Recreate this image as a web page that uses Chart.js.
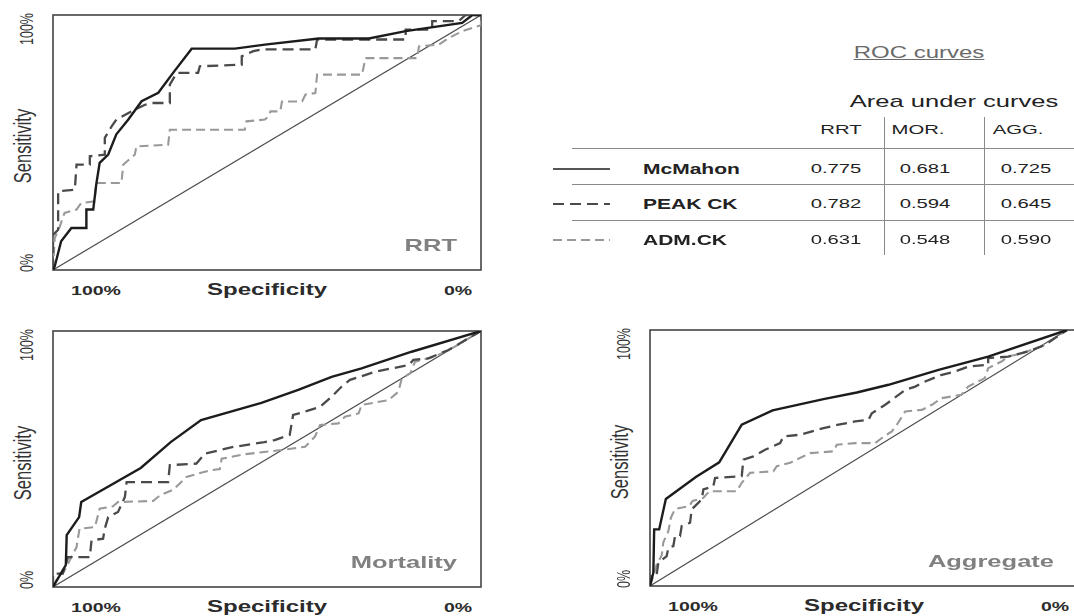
<!DOCTYPE html>
<html>
<head>
<meta charset="utf-8">
<title>ROC curves</title>
<script src="https://cdn.jsdelivr.net/npm/chart.js@4.4.1/dist/chart.umd.min.js"></script>
<style>
  html, body {
    margin: 0;
    padding: 0;
    background: #fff;
    width: 1074px;
    height: 616px;
    overflow: hidden;
    position: relative;
    font-family: "Liberation Sans", Arial, sans-serif;
  }
  .panel { position: absolute; }
  .lbl { position: absolute; white-space: nowrap; line-height: 1; }
  .rule { position: absolute; background: #8a8a8a; }
</style>
</head>
<body>
<script>
// names and labels
const seriesNames = ['McMahon', 'PEAK CK', 'ADM.CK'];
const panelNames = ['RRT', 'Mortality', 'Aggregate'];
const xTickLabels = ['100%', '0%'];
const yTickLabels = ['0%', '100%'];
const xTitle = 'Specificity';
const yTitle = 'Sensitivity';

// area under curves table
const aucColumns = ['RRT', 'MOR.', 'AGG.'];
const aucRRT = [0.775, 0.782, 0.631];
const aucMOR = [0.681, 0.594, 0.548];
const aucAGG = [0.725, 0.645, 0.590];

// curves, points are [1 - specificity, sensitivity]
const rrtMcMahon = [[0,0],[0.004,0.014],[0.019,0.113],[0.043,0.165],[0.078,0.165],[0.078,0.237],[0.094,0.237],[0.101,0.335],[0.109,0.420],[0.129,0.453],[0.148,0.532],[0.176,0.590],[0.207,0.662],[0.246,0.695],[0.281,0.774],[0.324,0.868],[0.425,0.868],[0.495,0.884],[0.621,0.908],[0.738,0.908],[0.824,0.937],[0.956,0.969],[0.980,1],[1,1]];
const rrtPeakCk = [[0,0],[0,0.138],[0.012,0.158],[0.012,0.309],[0.051,0.315],[0.055,0.413],[0.086,0.413],[0.086,0.446],[0.121,0.452],[0.121,0.518],[0.137,0.563],[0.148,0.590],[0.183,0.622],[0.215,0.648],[0.230,0.655],[0.273,0.655],[0.273,0.727],[0.289,0.773],[0.339,0.773],[0.343,0.799],[0.441,0.805],[0.441,0.838],[0.468,0.858],[0.488,0.865],[0.613,0.865],[0.617,0.904],[0.824,0.904],[0.824,0.943],[0.886,0.943],[0.886,0.976],[0.948,0.976],[0.964,1],[1,1]];
const rrtAdmCk = [[0,0],[0.004,0.125],[0.016,0.171],[0.027,0.224],[0.055,0.237],[0.066,0.263],[0.097,0.269],[0.101,0.341],[0.160,0.341],[0.164,0.413],[0.191,0.452],[0.195,0.485],[0.269,0.491],[0.273,0.550],[0.448,0.550],[0.452,0.583],[0.495,0.590],[0.504,0.603],[0.508,0.622],[0.531,0.622],[0.535,0.661],[0.582,0.661],[0.590,0.688],[0.613,0.694],[0.617,0.766],[0.722,0.766],[0.730,0.831],[0.851,0.831],[0.855,0.877],[0.902,0.884],[0.925,0.910],[0.956,0.936],[0.990,0.955],[1,0.96],[1,1]];

const morMcMahon = [[0,0],[0.030,0.086],[0.032,0.203],[0.061,0.273],[0.066,0.332],[0.205,0.465],[0.275,0.566],[0.346,0.652],[0.487,0.719],[0.573,0.770],[0.651,0.821],[0.721,0.854],[0.838,0.919],[1,1]];
const morPeakCk = [[0,0],[0,0.052],[0.023,0.052],[0.035,0.117],[0.086,0.117],[0.090,0.182],[0.117,0.189],[0.121,0.228],[0.129,0.273],[0.152,0.293],[0.168,0.352],[0.172,0.410],[0.269,0.410],[0.273,0.476],[0.335,0.482],[0.355,0.521],[0.421,0.547],[0.494,0.566],[0.518,0.574],[0.553,0.594],[0.561,0.672],[0.588,0.685],[0.624,0.704],[0.651,0.743],[0.674,0.782],[0.694,0.809],[0.729,0.828],[0.752,0.841],[0.831,0.867],[0.842,0.887],[0.877,0.893],[0.924,0.926],[1,1]];
const morAdmCk = [[0,0],[0.012,0.039],[0.027,0.065],[0.043,0.117],[0.055,0.156],[0.062,0.228],[0.098,0.234],[0.109,0.306],[0.140,0.315],[0.152,0.332],[0.234,0.336],[0.250,0.358],[0.281,0.380],[0.312,0.430],[0.367,0.456],[0.390,0.461],[0.394,0.501],[0.445,0.518],[0.534,0.535],[0.589,0.548],[0.612,0.587],[0.624,0.633],[0.667,0.639],[0.682,0.665],[0.714,0.678],[0.721,0.711],[0.784,0.730],[0.807,0.763],[0.815,0.815],[0.835,0.835],[0.846,0.880],[0.893,0.900],[0.940,0.940],[1,1]];

const aggMcMahon = [[0,0],[0.008,0.052],[0.010,0.221],[0.022,0.221],[0.038,0.340],[0.110,0.426],[0.166,0.483],[0.220,0.630],[0.294,0.686],[0.416,0.730],[0.496,0.756],[0.572,0.786],[0.692,0.844],[0.811,0.896],[1,1]];
const aggPeakCk = [[0,0],[0.004,0.045],[0.016,0.045],[0.020,0.091],[0.040,0.117],[0.044,0.149],[0.056,0.156],[0.060,0.195],[0.072,0.195],[0.076,0.234],[0.096,0.247],[0.100,0.299],[0.124,0.338],[0.128,0.377],[0.152,0.390],[0.156,0.422],[0.220,0.429],[0.224,0.494],[0.248,0.506],[0.276,0.532],[0.312,0.558],[0.320,0.584],[0.360,0.591],[0.416,0.617],[0.452,0.630],[0.492,0.643],[0.524,0.649],[0.532,0.675],[0.564,0.708],[0.580,0.727],[0.612,0.766],[0.636,0.779],[0.660,0.799],[0.700,0.825],[0.732,0.838],[0.763,0.857],[0.811,0.864],[0.811,0.890],[0.859,0.896],[0.907,0.916],[0.947,0.942],[1,1]];
const aggAdmCk = [[0,0],[0.008,0.039],[0.016,0.084],[0.028,0.119],[0.032,0.171],[0.044,0.214],[0.050,0.266],[0.060,0.301],[0.094,0.312],[0.102,0.332],[0.128,0.344],[0.142,0.370],[0.208,0.370],[0.220,0.403],[0.240,0.442],[0.296,0.448],[0.304,0.468],[0.336,0.481],[0.352,0.494],[0.384,0.519],[0.440,0.526],[0.448,0.552],[0.492,0.558],[0.540,0.558],[0.556,0.578],[0.580,0.604],[0.592,0.630],[0.612,0.682],[0.652,0.688],[0.676,0.708],[0.700,0.734],[0.747,0.747],[0.763,0.779],[0.787,0.799],[0.803,0.812],[0.811,0.851],[0.843,0.877],[0.859,0.896],[0.891,0.909],[0.939,0.935],[1,1]];

const chanceLine = [[0,0],[1,1]];

const panelCurves = [
  [rrtMcMahon, rrtPeakCk, rrtAdmCk],
  [morMcMahon, morPeakCk, morAdmCk],
  [aggMcMahon, aggPeakCk, aggAdmCk]
];

// look of each series: solid black, dark dashed, light dashed
const seriesStyles = [
  { color: '#1c1c1c', width: 2.4, dash: [] },
  { color: '#4a4a4a', width: 2.3, dash: [11, 6] },
  { color: '#999999', width: 2.1, dash: [9, 5] }
];

// plot boxes on the page (the last one runs off the right edge)
const boxes = [
  { left: 53, top: 15, w: 428, h: 255, xMax: 1 },
  { left: 53, top: 331, w: 428, h: 256, xMax: 1 },
  { left: 650, top: 330, w: 426, h: 256, xMax: 1.0216 }
];

const STRETCH = 1.5; // text in the picture is stretched sideways

function addText(txt, x, y, opts) {
  const d = document.createElement('div');
  d.className = 'lbl';
  d.textContent = txt;
  d.style.left = x + 'px';
  d.style.top = y + 'px';
  d.style.fontSize = (opts.size || 13) + 'px';
  d.style.color = opts.color || '#222';
  if (opts.bold) d.style.fontWeight = 'bold';
  if (opts.underline) d.style.textDecoration = 'underline';
  const align = opts.align || 'center';
  if (align === 'left') {
    d.style.transformOrigin = 'left center';
    d.style.transform = 'translate(0,-50%) scaleX(' + STRETCH + ')';
  } else if (align === 'right') {
    d.style.transformOrigin = 'right center';
    d.style.transform = 'translate(-100%,-50%) scaleX(' + STRETCH + ')';
  } else if (align === 'vert') {
    d.style.transform = 'translate(-50%,-50%) scaleX(' + STRETCH + ') rotate(-90deg)';
  } else {
    d.style.transform = 'translate(-50%,-50%) scaleX(' + STRETCH + ')';
  }
  document.body.appendChild(d);
  return d;
}

function addRule(x, y, w, h) {
  const r = document.createElement('div');
  r.className = 'rule';
  r.style.left = x + 'px';
  r.style.top = y + 'px';
  r.style.width = w + 'px';
  r.style.height = h + 'px';
  document.body.appendChild(r);
}

const framePlugin = {
  id: 'frame',
  beforeDatasetsDraw(chart) {
    const { ctx, chartArea: a } = chart;
    ctx.save();
    ctx.strokeStyle = '#444';
    ctx.lineWidth = 1.6;
    ctx.strokeRect(a.left, a.top, a.right - a.left, a.bottom - a.top);
    ctx.restore();
  }
};

const toXY = (pts) => pts.map(p => ({ x: p[0], y: p[1] }));

const PAD = 6;
boxes.forEach((b, i) => {
  const wrap = document.createElement('div');
  wrap.className = 'panel';
  wrap.style.left = (b.left - PAD) + 'px';
  wrap.style.top = (b.top - PAD) + 'px';
  wrap.style.width = (b.w + 2 * PAD) + 'px';
  wrap.style.height = (b.h + 2 * PAD) + 'px';
  const canvas = document.createElement('canvas');
  wrap.appendChild(canvas);
  document.body.appendChild(wrap);

  const datasets = panelCurves[i].map((curve, k) => ({
    label: seriesNames[k],
    data: toXY(curve),
    borderColor: seriesStyles[k].color,
    borderWidth: seriesStyles[k].width,
    borderDash: seriesStyles[k].dash,
    pointRadius: 0,
    tension: 0,
    fill: false
  }));
  datasets.push({
    label: 'chance',
    data: toXY(chanceLine),
    borderColor: '#4a4a4a',
    borderWidth: 1.1,
    pointRadius: 0,
    fill: false
  });

  new Chart(canvas, {
    type: 'line',
    data: { datasets },
    options: {
      responsive: true,
      maintainAspectRatio: false,
      animation: false,
      layout: { padding: PAD },
      plugins: { legend: { display: false }, tooltip: { enabled: false } },
      scales: {
        x: { type: 'linear', min: 0, max: b.xMax, display: false },
        y: { type: 'linear', min: 0, max: 1, display: false }
      }
    },
    plugins: [framePlugin]
  });

  // axis texts
  const bottom = b.top + b.h;
  addText(yTickLabels[1], b.left - 26, b.top + 13.5, { size: 12.5, color: '#333', align: 'vert' });
  addText(yTickLabels[0], b.left - 26, bottom - 7, { size: 12.5, color: '#333', align: 'vert' });
  addText(yTitle, b.left - 31, b.top + b.h / 2 + 3.5, { size: 16.5, color: '#333', align: 'vert' });
  addText(xTickLabels[0], b.left + 43, bottom + 20, { size: 13, bold: true, color: '#2b2b2b' });
  addText(xTitle, b.left + 214, bottom + 20, { size: 16, bold: true, color: '#2b2b2b' });
  addText(xTickLabels[1], b.left + 405, bottom + 20, { size: 13, bold: true, color: '#2b2b2b' });
  addText(panelNames[i], b.left + 404, bottom - 25, { size: 17, bold: true, color: '#808080', align: 'right' });
});

// legend + area under curves table
addText('ROC curves', 919, 53, { size: 16, color: '#6a6a6a', underline: true });
addText('Area under curves', 954, 101, { size: 17, color: '#222' });

const colCenters = [841, 918, 1018];
aucColumns.forEach((c, j) => addText(c, colCenters[j], 130, { size: 13.5, color: '#222' }));

const rowY = [169, 204, 240];
const valCenters = [836, 925, 1026];
const aucCols = [aucRRT, aucMOR, aucAGG];
seriesNames.forEach((name, k) => {
  addText(name, 643, rowY[k], { size: 14, bold: true, color: '#222', align: 'left' });
  aucCols.forEach((col, j) => addText(col[k].toFixed(3), valCenters[j], rowY[k], { size: 13.5, color: '#222' }));
});

[148, 184, 220].forEach(y => addRule(572, y, 502, 1));
[884, 984].forEach(x => addRule(x, 117, 1, 138));

// legend line samples
const svgNS = 'http://www.w3.org/2000/svg';
const svg = document.createElementNS(svgNS, 'svg');
svg.setAttribute('width', '70');
svg.setAttribute('height', '100');
svg.style.position = 'absolute';
svg.style.left = '548px';
svg.style.top = '150px';
seriesStyles.forEach((s, k) => {
  const ln = document.createElementNS(svgNS, 'line');
  const y = rowY[k] - 150;
  ln.setAttribute('x1', 5);
  ln.setAttribute('x2', 62);
  ln.setAttribute('y1', y);
  ln.setAttribute('y2', y);
  ln.setAttribute('stroke', s.color);
  ln.setAttribute('stroke-width', k === 0 ? 1.6 : 2);
  if (s.dash.length) ln.setAttribute('stroke-dasharray', s.dash.join(' '));
  svg.appendChild(ln);
});
document.body.appendChild(svg);
</script>
</body>
</html>
